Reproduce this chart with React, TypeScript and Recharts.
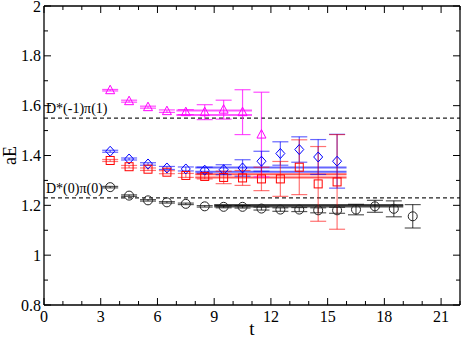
import {
  ComposedChart,
  ErrorBar,
  ReferenceLine,
  Scatter,
  XAxis,
  YAxis,
} from "recharts";

const WIDTH = 463;
const HEIGHT = 339;
const FONT = '"Liberation Serif", "Times New Roman", serif';
const AXIS_COLOR = "#000";
const MAJOR_TICK = 7;
const MINOR_TICK = 4;

const X_TICKS = [0, 1, 2, 3, 4, 5, 6, 7, 8, 9, 10, 11, 12, 13, 14, 15, 16, 17, 18, 19, 20, 21, 22];
const Y_TICKS = [0.8, 0.9, 1, 1.1, 1.2, 1.3, 1.4, 1.5, 1.6, 1.7, 1.8, 1.9, 2];

// threshold lines (non-interacting energies)
const thresholdValues = [1.55, 1.23];
const thresholdLabels = ["D*(-1)π(1)", "D*(0)π(0)"];

const magentaT = [3.5, 4.5, 5.5, 6.5, 7.5, 8.5, 9.5, 10.5, 11.5];
const magentaE = [1.662, 1.618, 1.594, 1.578, 1.574, 1.574, 1.584, 1.574, 1.484];
const magentaErr = [0.003, 0.004, 0.004, 0.005, 0.01, 0.03, 0.038, 0.09, 0.17];

const blueT = [3.5, 4.5, 5.5, 6.5, 7.5, 8.5, 9.5, 10.5, 11.5, 12.5, 13.5, 14.5, 15.5];
const blueE = [1.417, 1.386, 1.366, 1.35, 1.346, 1.341, 1.343, 1.35, 1.377, 1.408, 1.424, 1.394, 1.377];
const blueErr = [0.004, 0.004, 0.005, 0.006, 0.008, 0.012, 0.02, 0.033, 0.04, 0.047, 0.051, 0.07, 0.108];

const redT = [3.5, 4.5, 5.5, 6.5, 7.5, 8.5, 9.5, 10.5, 11.5, 12.5, 13.5, 14.5, 15.5];
const redE = [1.38, 1.355, 1.345, 1.333, 1.32, 1.316, 1.312, 1.31, 1.306, 1.306, 1.353, 1.286, 1.294];
const redErr = [0.004, 0.005, 0.005, 0.006, 0.008, 0.01, 0.025, 0.03, 0.047, 0.07, 0.11, 0.15, 0.19];

const blackT = [3.5, 4.5, 5.5, 6.5, 7.5, 8.5, 9.5, 10.5, 11.5, 12.5, 13.5, 14.5, 15.5, 16.5, 17.5, 18.5, 19.5];
const blackE = [1.273, 1.239, 1.22, 1.212, 1.206, 1.196, 1.194, 1.194, 1.187, 1.183, 1.183, 1.18, 1.18, 1.183, 1.196, 1.186, 1.156];
const blackErr = [0.003, 0.003, 0.003, 0.003, 0.003, 0.003, 0.004, 0.005, 0.006, 0.007, 0.008, 0.01, 0.012, 0.021, 0.024, 0.032, 0.047];

// fit ranges [tmin, tmax] and bands [lower, upper]
const magentaFitRange = [7, 11];
const magentaFitBand = [1.563, 1.581];
const blueFitRange = [8, 16];
const blueFitBand = [1.335, 1.352];
const redFitRange = [8, 16];
const redFitBand = [1.312, 1.325];
const blackFitRange = [9, 19];
const blackFitBand = [1.195, 1.201];

const toPoints = (t: number[], e: number[], err: number[]) =>
  t.map((tv, i) => ({ t: tv, e: e[i], err: err[i] }));

const magentaData = toPoints(magentaT, magentaE, magentaErr);
const blueData = toPoints(blueT, blueE, blueErr);
const redData = toPoints(redT, redE, redErr);
const blackData = toPoints(blackT, blackE, blackErr);

const isMajorX = (v: number) => v % 3 === 0;
const isMajorY = (v: number) => Math.round(v * 10) % 2 === 0;

function BottomTick(props: any) {
  const { x, y, payload } = props;
  const major = isMajorX(payload.value);
  return (
    <g>
      <line x1={x} x2={x} y1={y} y2={y - (major ? MAJOR_TICK : MINOR_TICK)} stroke={AXIS_COLOR} />
      {major && (
        <text x={x} y={y + 17} textAnchor="middle" fontFamily={FONT} fontSize={16} fill="#000">
          {payload.value}
        </text>
      )}
    </g>
  );
}

function TopTick(props: any) {
  const { x, y, payload } = props;
  const major = isMajorX(payload.value);
  return <line x1={x} x2={x} y1={y} y2={y + (major ? MAJOR_TICK : MINOR_TICK)} stroke={AXIS_COLOR} />;
}

function LeftTick(props: any) {
  const { x, y, payload } = props;
  const major = isMajorY(payload.value);
  return (
    <g>
      <line x1={x} x2={x + (major ? MAJOR_TICK : MINOR_TICK)} y1={y} y2={y} stroke={AXIS_COLOR} />
      {major && (
        <text x={x - 3} y={y} dy="0.35em" textAnchor="end" fontFamily={FONT} fontSize={16} fill="#000">
          {String(payload.value)}
        </text>
      )}
    </g>
  );
}

function RightTick(props: any) {
  const { x, y, payload } = props;
  const major = isMajorY(payload.value);
  return <line x1={x} x2={x - (major ? MAJOR_TICK : MINOR_TICK)} y1={y} y2={y} stroke={AXIS_COLOR} />;
}

const triangle = (color: string) => (p: any) => {
  const { cx = 0, cy = 0 } = p;
  return (
    <polygon
      points={`${cx},${cy - 5} ${cx - 4.5},${cy + 3.5} ${cx + 4.5},${cy + 3.5}`}
      fill="none"
      stroke={color}
    />
  );
};

const diamond = (color: string) => (p: any) => {
  const { cx = 0, cy = 0 } = p;
  return (
    <polygon
      points={`${cx},${cy - 5} ${cx + 4.5},${cy} ${cx},${cy + 5} ${cx - 4.5},${cy}`}
      fill="none"
      stroke={color}
    />
  );
};

const square = (color: string) => (p: any) => {
  const { cx = 0, cy = 0 } = p;
  return <rect x={cx - 4} y={cy - 4} width={8} height={8} fill="none" stroke={color} />;
};

const circle = (color: string) => (p: any) => {
  const { cx = 0, cy = 0 } = p;
  return <circle cx={cx} cy={cy} r={4.5} fill="none" stroke={color} />;
};

function fitLines(range: number[], band: number[], color: string, key: string) {
  return band.map((v, i) => (
    <ReferenceLine
      key={`${key}-${i}`}
      segment={[
        { x: range[0], y: v },
        { x: range[1], y: v },
      ]}
      stroke={color}
      strokeWidth={2}
    />
  ));
}

export default function App() {
  return (
    <div style={{ position: "absolute", left: 0, top: 0 }}>
      <ComposedChart
        width={WIDTH}
        height={HEIGHT}
        margin={{ top: 5, right: 2, bottom: 0, left: 0 }}
      >
        <XAxis
          dataKey="t"
          type="number"
          domain={[0, 22]}
          ticks={X_TICKS}
          interval={0}
          tickSize={0}
          tickMargin={0}
          tickLine={false}
          tick={(p: any) => <BottomTick {...p} />}
          axisLine={{ stroke: AXIS_COLOR, strokeWidth: 1.3 }}
          height={34}
          allowDataOverflow
          label={{
            content: ({ viewBox }: any) => (
              <text
                x={viewBox.x + viewBox.width / 2}
                y={viewBox.y + viewBox.height - 4}
                textAnchor="middle"
                fontFamily={FONT}
                fontSize={19}
                fill="#000"
              >
                t
              </text>
            ),
          }}
        />
        <XAxis
          xAxisId="top"
          orientation="top"
          dataKey="t"
          type="number"
          domain={[0, 22]}
          ticks={X_TICKS}
          interval={0}
          tickSize={0}
          tickMargin={0}
          tickLine={false}
          tick={(p: any) => <TopTick {...p} />}
          axisLine={{ stroke: AXIS_COLOR, strokeWidth: 1.3 }}
          height={1}
          allowDataOverflow
        />
        <YAxis
          dataKey="e"
          type="number"
          domain={[0.8, 2]}
          ticks={Y_TICKS}
          interval={0}
          tickSize={0}
          tickMargin={0}
          tickLine={false}
          tick={(p: any) => <LeftTick {...p} />}
          axisLine={{ stroke: AXIS_COLOR, strokeWidth: 1.3 }}
          width={44}
          allowDataOverflow
          label={{
            content: ({ viewBox }: any) => {
              const x = viewBox.x + 16;
              const y = viewBox.y + viewBox.height / 2;
              return (
                <text
                  x={x}
                  y={y}
                  transform={`rotate(-90, ${x}, ${y})`}
                  textAnchor="middle"
                  fontFamily={FONT}
                  fontSize={18}
                  fill="#000"
                >
                  aE
                </text>
              );
            },
          }}
        />
        <YAxis
          yAxisId="right"
          orientation="right"
          type="number"
          domain={[0.8, 2]}
          ticks={Y_TICKS}
          interval={0}
          tickSize={0}
          tickMargin={0}
          tickLine={false}
          tick={(p: any) => <RightTick {...p} />}
          axisLine={{ stroke: AXIS_COLOR, strokeWidth: 1.3 }}
          width={1}
          allowDataOverflow
        />

        {thresholdValues.map((v, i) => (
          <ReferenceLine
            key={`thr-${i}`}
            y={v}
            stroke="#222"
            strokeWidth={1.2}
            strokeDasharray="4 3"
            label={{
              content: ({ viewBox }: any) => (
                <text
                  x={viewBox.x + 2}
                  y={viewBox.y - 5}
                  fontFamily={FONT}
                  fontSize={14}
                  fill="#000"
                >
                  {thresholdLabels[i]}
                </text>
              ),
            }}
          />
        ))}

        {fitLines(magentaFitRange, magentaFitBand, "rgba(255,0,255,0.65)", "m")}
        {fitLines(blueFitRange, blueFitBand, "rgba(0,0,255,0.6)", "b")}
        {fitLines(redFitRange, redFitBand, "rgba(255,0,0,0.65)", "r")}
        {fitLines(blackFitRange, blackFitBand, "rgba(0,0,0,0.7)", "k")}

        <Scatter data={magentaData} dataKey="e" shape={triangle("#ff00ff")} isAnimationActive={false}>
          <ErrorBar dataKey="err" direction="y" width={8} stroke="rgba(255,0,255,0.7)" strokeWidth={1.2} />
        </Scatter>
        <Scatter data={blueData} dataKey="e" shape={diamond("#0000ff")} isAnimationActive={false}>
          <ErrorBar dataKey="err" direction="y" width={8} stroke="rgba(0,0,255,0.6)" strokeWidth={1.2} />
        </Scatter>
        <Scatter data={redData} dataKey="e" shape={square("#ff0000")} isAnimationActive={false}>
          <ErrorBar dataKey="err" direction="y" width={8} stroke="rgba(255,0,0,0.55)" strokeWidth={1.2} />
        </Scatter>
        <Scatter data={blackData} dataKey="e" shape={circle("#222")} isAnimationActive={false}>
          <ErrorBar dataKey="err" direction="y" width={8} stroke="rgba(0,0,0,0.65)" strokeWidth={1.2} />
        </Scatter>
      </ComposedChart>
    </div>
  );
}
